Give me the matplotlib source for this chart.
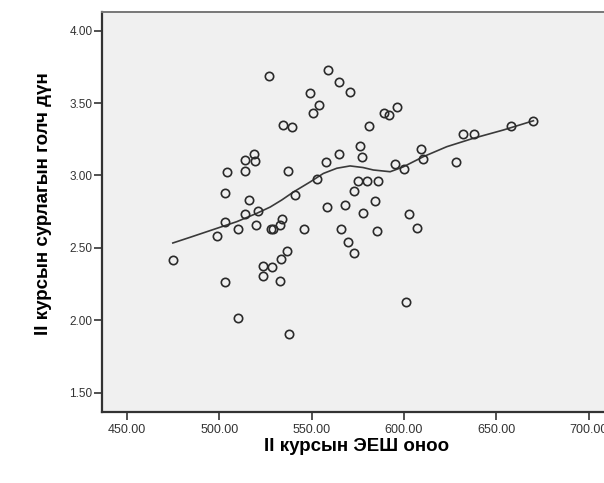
import matplotlib
matplotlib.use('Agg')
import matplotlib.pyplot as plt

plt.rcParams['font.family'] = ['Liberation Sans', 'DejaVu Sans']

# ЭЕШ score (x) and GPA (y) for each student
esh_score = [475.1, 498.9, 503.1, 503.1, 503.1, 503.9, 509.9, 510.0, 513.9, 513.9,
             513.9, 515.8, 519.0, 519.3, 519.9, 521.0, 523.7, 523.8, 527.0, 528.0,
             529.1, 528.4, 532.9, 533.2, 532.9, 534.0, 534.7, 536.4, 537.1, 537.9,
             539.2, 541.0, 545.9, 549.1, 550.9, 552.9, 554.2, 557.8, 558.1, 558.9,
             565.0, 565.0, 565.9, 568.1, 569.9, 570.8, 573.0, 573.0, 575.3, 576.2,
             577.1, 578.0, 580.2, 581.1, 584.2, 585.2, 586.1, 589.2, 592.1, 595.2,
             596.1, 600.2, 601.1, 602.9, 607.1, 609.1, 610.3, 628.2, 631.9, 638.0,
             658.0, 670.1]
gpa = [2.416, 2.579, 2.879, 2.681, 2.268, 3.021, 2.628, 2.019, 3.107, 3.028,
       2.736, 2.831, 3.145, 3.100, 2.658, 2.758, 2.378, 2.306, 3.687, 2.628,
       2.628, 2.368, 2.658, 2.423, 2.271, 2.703, 3.349, 2.480, 3.029, 1.907,
       3.337, 2.865, 2.628, 3.568, 3.430, 2.976, 3.490, 3.095, 2.780, 3.729,
       3.648, 3.148, 2.628, 2.796, 2.539, 3.579, 2.896, 2.468, 2.960, 3.204,
       3.128, 2.738, 2.965, 3.340, 2.827, 2.617, 2.965, 3.430, 3.418, 3.077,
       3.471, 3.045, 2.128, 2.731, 2.637, 3.180, 3.112, 3.095, 3.287, 3.287,
       3.342, 3.378]

# loess fit line
fit_x = [474.8, 484.1, 498.6, 509.4, 520.3, 527.5, 533.8, 540.1, 549.1, 556.3,
         563.6, 570.8, 577.8, 583.4, 592.5, 599.5, 610.5, 623.2, 637.6, 653.8, 670.1]
fit_y = [2.534, 2.573, 2.635, 2.681, 2.739, 2.782, 2.831, 2.886, 2.955, 3.014,
         3.050, 3.066, 3.055, 3.038, 3.026, 3.059, 3.130, 3.199, 3.257, 3.314, 3.378]

x_ticks = [450, 500, 550, 600, 650, 700]
y_ticks = [1.5, 2.0, 2.5, 3.0, 3.5, 4.0]

fig = plt.figure(figsize=(6.04, 4.83), dpi=100)
ax = fig.add_axes([0.1694, 0.1476, 0.851, 0.8282])
ax.set_facecolor('#f0f0f0')

ax.plot(fit_x, fit_y, color='#3a3a3a', linewidth=1.2, zorder=2)
ax.plot(esh_score, gpa, linestyle='none', marker='o', markersize=6,
        markerfacecolor='none', markeredgecolor='#2a2a2a', markeredgewidth=1.2, zorder=3)

ax.set_xlim(436.6, 715)
ax.set_ylim(1.369, 4.131)
ax.set_xticks(x_ticks)
ax.set_xticklabels(['%.2f' % v for v in x_ticks], fontsize=9, color='#333333')
ax.set_yticks(y_ticks)
ax.set_yticklabels(['%.2f' % v for v in y_ticks], fontsize=8.5, color='#333333')
ax.tick_params(axis='both', direction='out', length=6, width=1.2, color='#333333')
ax.tick_params(axis='x', pad=3)
ax.tick_params(axis='y', pad=1)

for side in ['left', 'bottom']:
    ax.spines[side].set_linewidth(1.6)
    ax.spines[side].set_color('#333333')
for side in ['top', 'right']:
    ax.spines[side].set_linewidth(1.4)
    ax.spines[side].set_color('#777777')

ax.set_xlabel('II курсын ЭЕШ оноо', fontsize=13.5, fontweight='bold', va='center')
ax.xaxis.set_label_coords(0.4955, -0.088)
ax.set_ylabel('II курсын сурлагын голч дүн', fontsize=13.5, fontweight='bold', va='center')
ax.yaxis.set_label_coords(-0.1154, 0.52)

fig.savefig('out.png', dpi=100)
